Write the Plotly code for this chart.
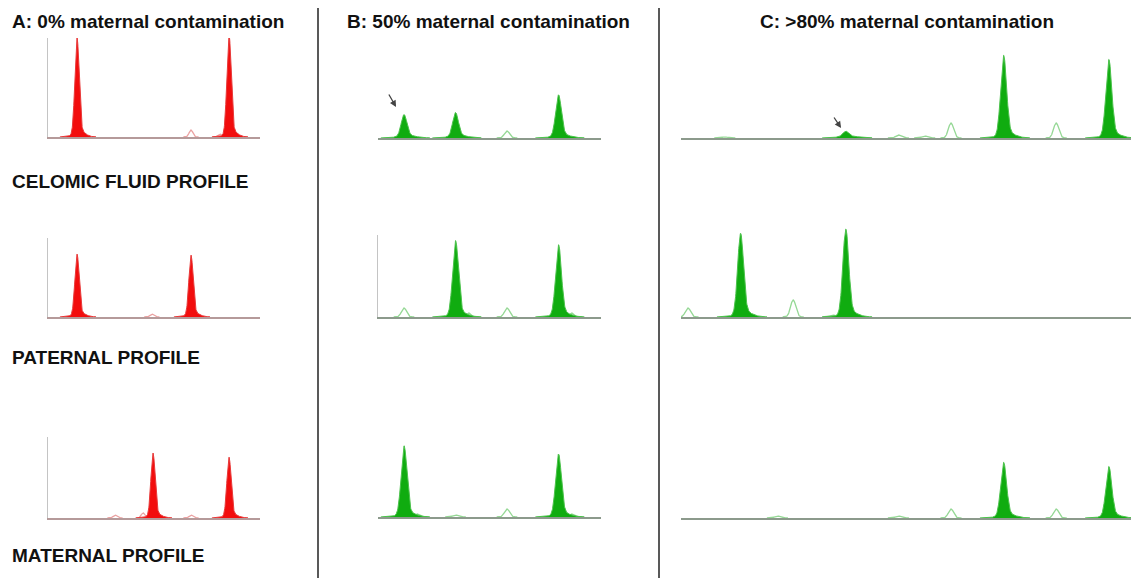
import numpy as np
import plotly.graph_objects as go

W, H = 1131, 578

# ---------------- data (allele repeat number, peak height in RFU) ----------------
# Panel A : 0% maternal contamination
A_cel_fill_pos = [12, 16]
A_cel_fill_h = [2350, 2425]
A_cel_out_pos = [15, 15.76]
A_cel_out_h = [175, 75]

A_pat_fill_pos = [12, 15]
A_pat_fill_h = [1475, 1450]
A_pat_out_pos = [13.97]
A_pat_out_h = [75]

A_mat_fill_pos = [14, 16]
A_mat_fill_h = [1525, 1425]
A_mat_out_pos = [13, 13.74, 15]
A_mat_out_h = [75, 125, 75]

# Panel B : 50% maternal contamination
B_cel_fill_pos = [9, 10, 12]
B_cel_fill_h = [525, 575, 1000]
B_cel_out_pos = [11]
B_cel_out_h = [175]

B_pat_fill_pos = [10, 12]
B_pat_fill_h = [1800, 1700]
B_pat_out_pos = [9, 10.25, 11, 12.25]
B_pat_out_h = [225, 100, 225, 100]

B_mat_fill_pos = [9, 12]
B_mat_fill_h = [1675, 1475]
B_mat_out_pos = [9.25, 10, 11, 12.25]
B_mat_out_h = [75, 50, 200, 75]

# Panel C : >80% maternal contamination
C_cel_fill_pos = [8, 11, 13]
C_cel_fill_h = [125, 1950, 1850]
C_cel_out_pos = [5.7, 9, 9.5, 10, 12]
C_cel_out_h = [25, 75, 50, 375, 375]

C_pat_fill_pos = [6, 8]
C_pat_fill_h = [1975, 2075]
C_pat_out_pos = [5, 7, 7.75]
C_pat_out_h = [225, 425, 50]

C_mat_fill_pos = [11, 13]
C_mat_fill_h = [1300, 1200]
C_mat_out_pos = [6.7, 9, 10, 12]
C_mat_out_h = [50, 50, 225, 225]

titles = ["A: 0% maternal contamination", "B: 50% maternal contamination",
          "C: >80% maternal contamination"]
row_labels = ["CELOMIC FLUID PROFILE", "PATERNAL PROFILE", "MATERNAL PROFILE"]

RFU_PER_PX = 25

# ---------------- layout geometry (pixels) ----------------
cols = [
    dict(l=48, r=260, xr=[11.237, 16.816], fill="#f20d0d", edge="#e83a3a",
         out="#eaa2a2", base="#b59a9a"),
    dict(l=378, r=601, xr=[8.495, 12.825], fill="#10ac10", edge="#4cc24c",
         out="#95d895", base="#8c9a8c"),
    dict(l=681, r=1131, xr=[4.867, 13.422], fill="#10ac10", edge="#4cc24c",
         out="#95d895", base="#8c9a8c"),
]
# per panel (top, base, show y-axis line)
panel_geom = [
    [(38, 137, True), (238, 317, True), (437, 518, True)],
    [(38, 138, False), (235, 317, True), (437, 517, False)],
    [(38, 138, False), (226, 317, False), (437, 518, False)],
]
panel_data = [
    [(A_cel_fill_pos, A_cel_fill_h, A_cel_out_pos, A_cel_out_h),
     (A_pat_fill_pos, A_pat_fill_h, A_pat_out_pos, A_pat_out_h),
     (A_mat_fill_pos, A_mat_fill_h, A_mat_out_pos, A_mat_out_h)],
    [(B_cel_fill_pos, B_cel_fill_h, B_cel_out_pos, B_cel_out_h),
     (B_pat_fill_pos, B_pat_fill_h, B_pat_out_pos, B_pat_out_h),
     (B_mat_fill_pos, B_mat_fill_h, B_mat_out_pos, B_mat_out_h)],
    [(C_cel_fill_pos, C_cel_fill_h, C_cel_out_pos, C_cel_out_h),
     (C_pat_fill_pos, C_pat_fill_h, C_pat_out_pos, C_pat_out_h),
     (C_mat_fill_pos, C_mat_fill_h, C_mat_out_pos, C_mat_out_h)],
]


def filled_peak(c, h):
    x = np.linspace(c - 0.45, c + 0.5, 191)
    y = h * np.exp(-0.5 * ((x - c) / 0.055) ** 2)
    y = y + 0.05 * h * np.exp(-0.5 * ((x - c - 0.08) / 0.12) ** 2)
    y = y + 40 * np.exp(-0.5 * ((x - c - 0.05) / 0.2) ** 2)
    return x, y


def outline_peak(c, h):
    x = np.linspace(c - 0.2, c + 0.2, 81)
    y = h * np.exp(-0.5 * ((x - c) / 0.05) ** 2)
    return x, y


fig = go.Figure()
layout = dict()
idx = 0
for ci, col in enumerate(cols):
    for ri in range(3):
        idx += 1
        top, base, show_y = panel_geom[ci][ri]
        fpos, fh, opos, oh = panel_data[ci][ri]
        xa = "x" if idx == 1 else f"x{idx}"
        ya = "y" if idx == 1 else f"y{idx}"
        for c, h in zip(opos, oh):
            x, y = outline_peak(c, h)
            fig.add_trace(go.Scatter(x=x, y=y, mode="lines", xaxis=xa, yaxis=ya,
                                     line=dict(color=col["out"], width=1.3),
                                     hoverinfo="skip", showlegend=False))
        for c, h in zip(fpos, fh):
            x, y = filled_peak(c, h)
            fig.add_trace(go.Scatter(x=x, y=y, mode="lines", xaxis=xa, yaxis=ya,
                                     fill="tozeroy", fillcolor=col["fill"],
                                     line=dict(color=col["edge"], width=1),
                                     hoverinfo="skip", showlegend=False))
        kx = "xaxis" if idx == 1 else f"xaxis{idx}"
        ky = "yaxis" if idx == 1 else f"yaxis{idx}"
        layout[kx] = dict(domain=[col["l"] / W, col["r"] / W], range=col["xr"],
                          anchor=ya, showgrid=False, zeroline=False,
                          showticklabels=False, ticks="", showline=True,
                          linecolor=col["base"], linewidth=2, fixedrange=True)
        layout[ky] = dict(domain=[1 - base / H, 1 - top / H],
                          range=[0, (base - top) * RFU_PER_PX],
                          anchor=xa, showgrid=False, zeroline=False,
                          showticklabels=False, ticks="", showline=show_y,
                          linecolor="#c4c4c4", linewidth=1, fixedrange=True)
        # arrows marking the maternal-contamination peak
        if ci == 1 and ri == 0:
            layout.setdefault("annotations", []).append(dict(
                x=fpos[0] - 0.155, y=fh[0] + 10 * RFU_PER_PX, xref=xa, yref=ya,
                text="", showarrow=True, ax=-8, ay=-14, arrowhead=2,
                arrowsize=1, arrowwidth=1.3, arrowcolor="#444444"))
        if ci == 2 and ri == 0:
            layout.setdefault("annotations", []).append(dict(
                x=fpos[0] - 0.09, y=fh[0] + 5 * RFU_PER_PX, xref=xa, yref=ya,
                text="", showarrow=True, ax=-8, ay=-12, arrowhead=2,
                arrowsize=1, arrowwidth=1.3, arrowcolor="#444444"))

ann = layout.setdefault("annotations", [])
font = dict(family="Liberation Sans, Arial, sans-serif", size=19, color="#111111",
            weight="bold")
title_pos = [(10, "left"), (345, "left"), (907, "center")]
for t, (px, anc) in zip(titles, title_pos):
    ann.append(dict(text=t, x=px / W, y=1 - 21 / H, xref="paper", yref="paper",
                    xanchor=anc, yanchor="middle", showarrow=False, font=font))
for t, py in zip(row_labels, [182, 357, 555]):
    ann.append(dict(text=t, x=10 / W, y=1 - py / H, xref="paper", yref="paper",
                    xanchor="left", yanchor="middle", showarrow=False, font=font))

shapes = []
for px in [318, 659]:
    shapes.append(dict(type="line", xref="paper", yref="paper", x0=px / W, x1=px / W,
                       y0=0, y1=1 - 8 / H, line=dict(color="#222222", width=1.5)))

fig.update_layout(**layout)
fig.update_layout(width=W, height=H, autosize=False,
                  margin=dict(l=0, r=0, t=0, b=0, pad=0),
                  paper_bgcolor="white", plot_bgcolor="white", shapes=shapes,
                  showlegend=False)
fig.write_html("out.html", config=dict(displayModeBar=False),
               post_script="document.body.style.margin='0';")
